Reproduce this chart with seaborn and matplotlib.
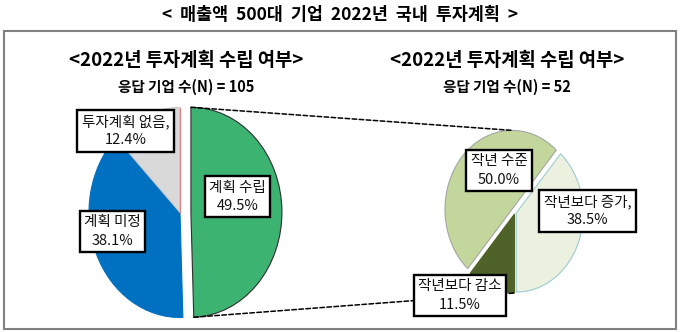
import numpy as np
import matplotlib
matplotlib.use("Agg")
import matplotlib.pyplot as plt
from matplotlib.patches import ConnectionPatch, Rectangle
import seaborn as sns

# --- data -------------------------------------------------------------
plan_labels = ["계획 수립", "계획 미정", "투자계획 없음,"]
plan_values = [49.5, 38.1, 12.4]
plan_n = 105

level_labels = ["작년보다 감소", "작년 수준", "작년보다 증가,"]
level_values = [11.5, 50.0, 38.5]
level_n = 52

title = "<  매출액  500대  기업  2022년  국내  투자계획  >"
subtitle = "<2022년 투자계획 수립 여부>"

# --- style ------------------------------------------------------------
sns.set_theme(style="white")
plt.rcParams["font.family"] = ["Noto Sans CJK KR", "DejaVu Sans"]

W, H = 680, 332
fig = plt.figure(figsize=(W / 100, H / 100), dpi=100)
fig.patch.set_facecolor("white")

LIM = 1.3


def pie_axes(cx, cy, rx, ry):
    """Axes whose unit circle maps to an ellipse centred at (cx, cy) px."""
    left = (cx - LIM * rx) / W
    bottom = (H - cy - LIM * ry) / H
    ax = fig.add_axes([left, bottom, 2 * LIM * rx / W, 2 * LIM * ry / H])
    return ax


def finish(ax):
    ax.set_xlim(-LIM, LIM)
    ax.set_ylim(-LIM, LIM)
    ax.set_aspect("auto")
    ax.axis("off")


def edge_point(wedge, angle):
    a = np.deg2rad(angle)
    cx, cy = wedge.center
    return (cx + wedge.r * np.cos(a), cy + wedge.r * np.sin(a))


def boxed(ax, x, y, text):
    ax.text(x, y, text, ha="center", va="center", fontsize=10.5,
            color="#111111", linespacing=1.4, zorder=6, clip_on=False,
            bbox=dict(boxstyle="square,pad=0.3", fc="white", ec="black",
                      lw=1.7))


# --- left pie: 투자계획 수립 여부 --------------------------------------
axL = pie_axes(180, 212.5, 91, 105)
plan_colors = ["#3cb371", "#0070c0", "#d9d9d9"]
wL, _ = axL.pie(plan_values, colors=plan_colors, startangle=90,
                counterclock=False, explode=[0.12, 0, 0],
                wedgeprops=dict(linewidth=0.8))
wL[0].set_edgecolor("#2f2f2f")
wL[1].set_edgecolor("#0070c0")
wL[2].set_edgecolor("#c8c8c8")
finish(axL)

# thin red rim on the right side of the grey slice
gx0, gy0 = wL[2].center
gx1, gy1 = edge_point(wL[2], wL[2].theta1)
axL.plot([gx0, gx1], [gy0, gy1], color="#e08080", lw=0.8, zorder=3)

boxed(axL, 0.63, 0.15, f"{plan_labels[0]}\n{plan_values[0]:.1f}%")
boxed(axL, -0.74, -0.18, f"{plan_labels[1]}\n{plan_values[1]:.1f}%")
boxed(axL, -0.60, 0.78, f"{plan_labels[2]}\n{plan_values[2]:.1f}%")

# --- right pie: 작년 대비 투자 수준 --------------------------------------
axR = pie_axes(515, 212.5, 67, 79)
level_colors = ["#4f6228", "#c3d69b", "#ebf1de"]
wR, _ = axR.pie(level_values, colors=level_colors, startangle=-90,
                counterclock=False, explode=[0.02, 0.06, 0.02],
                wedgeprops=dict(linewidth=0.8))
wR[0].set_edgecolor("#4f6228")
wR[1].set_edgecolor("#a5a5a5")
wR[2].set_edgecolor("#9ccbd3")
finish(axR)

boxed(axR, -0.24, 0.53, f"{level_labels[1]}\n{level_values[1]:.1f}%")
boxed(axR, 1.08, 0.02, f"{level_labels[2]}\n{level_values[2]:.1f}%")
boxed(axR, -0.82, -1.05, f"{level_labels[0]}\n{level_values[0]:.1f}%")

# --- dashed connectors from the 계획 수립 slice to the right pie ------
green = wL[0]
top_src = edge_point(green, green.theta2)
bot_src = edge_point(green, green.theta1)
top_dst = edge_point(wR[1], 90)
bot_dst = edge_point(wR[0], wR[0].theta2)
for src, dst in [(top_src, top_dst), (bot_src, bot_dst)]:
    con = ConnectionPatch(xyA=src, coordsA=axL.transData,
                          xyB=dst, coordsB=axR.transData,
                          color="black", lw=1.1, linestyle=(0, (3, 1.6)),
                          zorder=2, clip_on=False)
    axR.add_artist(con)

# --- titles and frame -------------------------------------------------
fig.text(340 / W, 1 - 15 / H, title, ha="center", va="center",
         fontsize=12.5, fontweight="bold", color="black")

for cx, n in [(186, plan_n), (507, level_n)]:
    fig.text(cx / W, 1 - 61 / H, subtitle, ha="center", va="center",
             fontsize=13.5, fontweight="bold", color="black")
    fig.text(cx / W, 1 - 86.5 / H, f"응답 기업 수(N) = {n}", ha="center",
             va="center", fontsize=10.5, fontweight="bold", color="black")

frame = Rectangle((3.5 / W, 3.5 / H), 672 / W, (329 - 28 - 3.5) / H,
                  transform=fig.transFigure, fill=False, ec="#808080",
                  lw=1.5, zorder=0)
fig.patches.append(frame)

fig.savefig("out.png", dpi=100)
